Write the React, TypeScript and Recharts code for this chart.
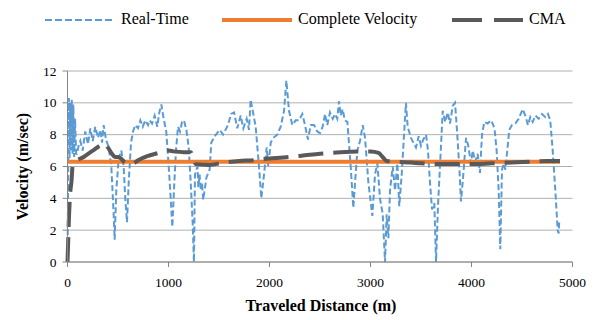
import React from 'react';
import { LineChart, Line, XAxis, YAxis, CartesianGrid } from 'recharts';

const realTimeDistance = [0, 6, 14, 20, 27, 34, 42, 50, 58, 66, 75, 85, 94, 110, 127, 150, 176, 203, 226, 250, 275, 302, 325, 342, 358, 381, 408, 434, 457, 467, 483, 507, 533, 556, 572, 589, 606, 629, 649, 671, 698, 721, 745, 770, 797, 813, 837, 863, 889, 909, 929, 952, 978, 1002, 1022, 1038, 1054, 1074, 1094, 1114, 1134, 1153, 1177, 1200, 1220, 1239, 1252, 1262, 1287, 1295, 1308, 1320, 1332, 1343, 1360, 1375, 1407, 1424, 1457, 1507, 1540, 1589, 1619, 1649, 1681, 1715, 1741, 1774, 1797, 1813, 1840, 1863, 1896, 1919, 1946, 1972, 1988, 2012, 2038, 2077, 2111, 2144, 2167, 2193, 2226, 2259, 2292, 2325, 2348, 2381, 2408, 2441, 2473, 2500, 2526, 2550, 2572, 2599, 2626, 2649, 2671, 2688, 2705, 2725, 2745, 2771, 2804, 2830, 2847, 2870, 2896, 2923, 2946, 2979, 3018, 3045, 3068, 3094, 3121, 3144, 3160, 3177, 3193, 3220, 3243, 3266, 3285, 3309, 3332, 3351, 3368, 3401, 3424, 3450, 3477, 3500, 3523, 3550, 3569, 3589, 3609, 3632, 3649, 3668, 3688, 3715, 3741, 3765, 3787, 3814, 3837, 3856, 3879, 3896, 3919, 3946, 3968, 3995, 4012, 4038, 4061, 4084, 4104, 4127, 4160, 4193, 4216, 4229, 4249, 4269, 4285, 4302, 4319, 4335, 4351, 4374, 4401, 4434, 4467, 4507, 4533, 4559, 4582, 4606, 4632, 4665, 4698, 4731, 4757, 4780, 4804, 4830, 4853, 4863, 4869];
const realTimeVelocity = [0, 5, 10.3, 6.5, 10.0, 7.0, 10.2, 6.8, 9.9, 6.6, 9.0, 6.8, 6.8, 7.3, 7.6, 7.0, 8.2, 7.4, 8.4, 7.6, 8.5, 7.8, 8.3, 7.5, 8.6, 7.7, 7.2, 6.0, 3.0, 1.4, 4.5, 6.5, 7.0, 6.0, 4.0, 2.5, 5.0, 7.5, 8.2, 8.6, 8.4, 8.9, 8.5, 8.9, 8.6, 8.9, 8.7, 9.2, 8.5, 9.4, 9.9, 9.0, 8.2, 6.0, 4.0, 2.2, 4.5, 7.0, 8.5, 8.2, 8.8, 8.9, 8.3, 7.2, 5.0, 2.5, 0, 5.5, 6.0, 4.7, 5.5, 4.5, 5.0, 3.9, 4.6, 5.3, 5.8, 7.5, 7.9, 8.3, 8.0, 8.6, 9.3, 9.4, 8.4, 9.2, 8.4, 9.0, 8.3, 10.2, 9.3, 8.5, 6.0, 4.0, 5.5, 7.2, 6.0, 7.5, 7.8, 8.0, 8.5, 9.5, 11.4, 9.5, 8.6, 8.9, 8.9, 9.3, 8.7, 7.7, 8.6, 8.6, 8.2, 8.1, 8.5, 9.3, 8.6, 9.4, 9.0, 9.3, 9.0, 10.1, 9.2, 9.6, 8.9, 8.8, 6.0, 3.4, 5.0, 7.0, 7.6, 8.6, 7.8, 5.0, 2.9, 5.5, 6.2, 4.0, 3.0, 0, 3.0, 1.5, 4.5, 6.0, 4.5, 6.2, 3.5, 5.5, 8.0, 10.0, 8.5, 7.8, 7.5, 7.2, 7.9, 7.3, 7.7, 8.0, 7.0, 5.0, 3.3, 3.7, 0, 3.5, 6.0, 9.5, 8.8, 9.4, 8.7, 9.8, 10.0, 8.3, 6.0, 3.8, 5.5, 7.8, 7.3, 6.2, 7.0, 6.3, 6.8, 5.6, 8.0, 8.8, 8.7, 8.9, 8.6, 8.3, 7.0, 4.5, 0.8, 5.8, 6.2, 5.8, 6.8, 8.3, 8.6, 8.7, 9.0, 9.6, 9.2, 8.6, 9.1, 8.8, 9.2, 9.0, 9.3, 9.1, 9.3, 8.9, 7.0, 4.5, 2.0, 1.8, 2.6];

const completeDistance = [0, 4876];
const completeVelocity = [6.3, 6.3];

const cmaDistance = [0, 8, 15, 25, 40, 50, 80, 160, 250, 320, 371, 400, 440, 470, 500, 530, 560, 600, 650, 700, 790, 900, 1000, 1050, 1150, 1220, 1245, 1270, 1400, 1550, 1700, 1850, 1900, 2000, 2200, 2350, 2500, 2700, 2900, 3000, 3080, 3120, 3160, 3250, 3400, 3500, 3650, 3800, 4000, 4200, 4400, 4600, 4750, 4876];
const cmaVelocity = [0, 1.5, 2.9, 4.2, 5.1, 6.0, 6.3, 6.6, 7.0, 7.3, 7.45, 7.2, 6.8, 6.6, 6.6, 6.5, 6.3, 6.2, 6.2, 6.4, 6.65, 6.85, 7.0, 6.95, 6.9, 6.9, 6.5, 6.15, 6.1, 6.25, 6.35, 6.4, 6.45, 6.5, 6.6, 6.7, 6.8, 6.9, 6.95, 6.95, 6.85, 6.6, 6.35, 6.3, 6.25, 6.2, 6.15, 6.15, 6.15, 6.2, 6.25, 6.3, 6.35, 6.35];

const xTicks = [0, 1000, 2000, 3000, 4000, 5000];
const yTicks = [0, 2, 4, 6, 8, 10, 12];

const realTimeData = realTimeDistance.map((d, i) => ({ d, v: realTimeVelocity[i] }));
const completeData = completeDistance.map((d, i) => ({ d, v: completeVelocity[i] }));
const cmaData = cmaDistance.map((d, i) => ({ d, v: cmaVelocity[i] }));

const FONT = "'Liberation Serif', 'Times New Roman', serif";
const BLUE = '#5B9BD5';
const ORANGE = '#ED7D31';
const GRAY = '#595959';

const legendItems = [
  { label: 'Real-Time', x: 45, textX: 121, kind: 'rt' },
  { label: 'Complete Velocity', x: 222, textX: 298, kind: 'cv' },
  { label: 'CMA', x: 452, textX: 529, kind: 'cma' },
];

const XTick = (props: any) => {
  const { x, y, payload } = props;
  return (
    <text x={x} y={y + 7} textAnchor="middle" dominantBaseline="hanging" style={{ fontFamily: FONT, fontSize: 13.5, fill: '#000' }}>
      {payload.value}
    </text>
  );
};

const YTick = (props: any) => {
  const { x, y, payload } = props;
  return (
    <text x={x} y={y} textAnchor="end" dominantBaseline="central" style={{ fontFamily: FONT, fontSize: 13.5, fill: '#000' }}>
      {payload.value}
    </text>
  );
};

export default function App() {
  return (
    <div style={{ position: 'absolute', left: 0, top: 0, width: 597, height: 320, background: '#fff', fontFamily: FONT }}>
      <LineChart width={597} height={320} margin={{ top: 71, right: 24.5, bottom: 0, left: 0 }} style={{ fontFamily: FONT }}>
        <CartesianGrid horizontal vertical={false} stroke="#B0B0B0" strokeWidth={1} />
        <XAxis
          dataKey="d"
          type="number"
          domain={[0, 5000]}
          ticks={xTicks}
          allowDuplicatedCategory={false}
          height={58}
          tickSize={5}
          tickMargin={3}
          axisLine={{ stroke: '#868686' }}
          tickLine={{ stroke: '#868686' }}
          tick={<XTick />}
          label={{
            content: () => (
              <text x={321} y={305} textAnchor="middle" dominantBaseline="central" style={{ fontFamily: FONT, fontSize: 16, fontWeight: 'bold', fill: '#000' }}>
                Traveled Distance (m)
              </text>
            ),
          }}
        />
        <YAxis
          dataKey="v"
          type="number"
          domain={[0, 12]}
          ticks={yTicks}
          width={67.5}
          tickSize={5}
          tickMargin={6}
          axisLine={{ stroke: '#868686' }}
          tickLine={{ stroke: '#868686' }}
          tick={<YTick />}
          label={{
            content: () => (
              <text x={22} y={166.5} transform="rotate(-90 22 166.5)" textAnchor="middle" dominantBaseline="central" style={{ fontFamily: FONT, fontSize: 16, fontWeight: 'bold', fill: '#000' }}>
                Velocity (m/sec)
              </text>
            ),
          }}
        />
        <Line data={realTimeData} dataKey="v" type="linear" stroke={BLUE} strokeWidth={2} strokeDasharray="6 3" dot={false} isAnimationActive={false} name="Real-Time" />
        <Line data={completeData} dataKey="v" type="linear" stroke={ORANGE} strokeWidth={4} dot={false} isAnimationActive={false} name="Complete Velocity" />
        <Line data={cmaData} dataKey="v" type="monotone" stroke={GRAY} strokeWidth={4} strokeDasharray="25 10" dot={false} isAnimationActive={false} name="CMA" />
      </LineChart>
      {legendItems.map((it) => (
        <React.Fragment key={it.label}>
          <svg style={{ position: 'absolute', left: it.x, top: 14, width: 72, height: 12 }}>
            {it.kind === 'rt' && <line x1={0} y1={6} x2={70} y2={6} stroke={BLUE} strokeWidth={2} strokeDasharray="7 3" />}
            {it.kind === 'cv' && <line x1={0} y1={6} x2={70} y2={6} stroke={ORANGE} strokeWidth={4} />}
            {it.kind === 'cma' && <line x1={0} y1={6} x2={71} y2={6} stroke={GRAY} strokeWidth={4} strokeDasharray="30 12" />}
          </svg>
          <div style={{ position: 'absolute', left: it.textX, top: 9, fontSize: 16, lineHeight: '20px', color: '#000', whiteSpace: 'nowrap' }}>{it.label}</div>
        </React.Fragment>
      ))}
    </div>
  );
}
